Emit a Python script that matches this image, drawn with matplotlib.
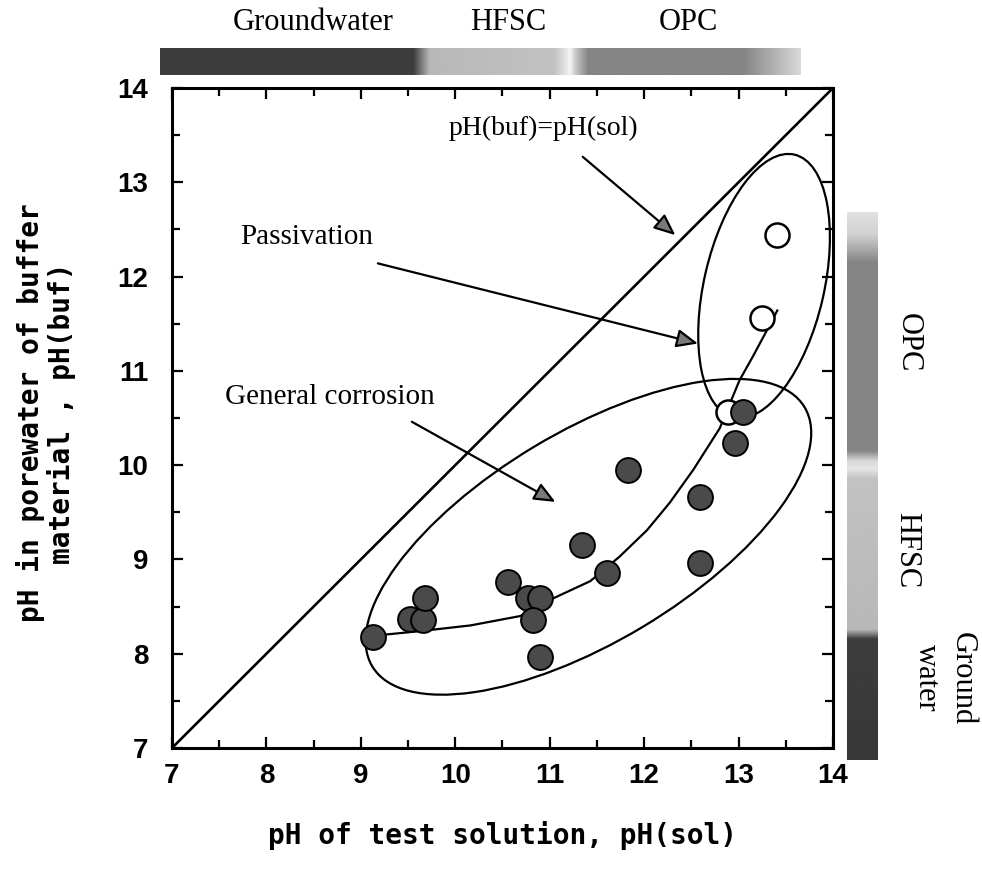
import numpy as np
import matplotlib
matplotlib.use('Agg')
import matplotlib.pyplot as plt
from matplotlib.patches import Ellipse
from matplotlib.ticker import MultipleLocator

# filled circles (general corrosion)
gen_sol = [9.13, 9.52, 9.66, 9.68, 10.56, 10.77, 10.90, 10.82, 10.90,
           11.34, 11.61, 11.83, 12.59, 12.59, 12.96, 13.05]
gen_buf = [8.18, 8.37, 8.36, 8.59, 8.76, 8.59, 8.59, 8.36, 7.97,
           9.15, 8.86, 9.95, 9.66, 8.96, 10.24, 10.56]

# open circles (passivation)
pas_sol = [13.41, 13.25, 12.89]
pas_buf = [12.44, 11.56, 10.56]

# hand drawn trend curve
trend_sol = [9.13, 9.63, 10.16, 10.69, 11.00, 11.43, 11.74, 12.03, 12.27,
             12.52, 12.80, 13.01, 13.15, 13.30, 13.41]
trend_buf = [8.19, 8.24, 8.30, 8.40, 8.57, 8.77, 9.03, 9.31, 9.60,
             9.95, 10.39, 10.90, 11.15, 11.43, 11.64]

# region ellipses: centre x, centre y, width, height, angle
gen_region = (11.41, 9.24, 5.34, 2.23, 31)
pas_region = (13.27, 11.90, 2.86, 1.27, 77)

# shaded reference bars (pH position, grey level)
top_bar_ph = [6.87, 9.55, 9.72, 11.05, 11.17, 11.21, 11.26, 11.40, 13.05, 13.65]
top_bar_grey = [0.24, 0.24, 0.72, 0.76, 0.90, 0.96, 0.80, 0.52, 0.52, 0.85]
right_bar_ph = [6.87, 8.15, 8.25, 9.85, 9.96, 10.04, 10.15, 12.15, 12.45, 12.68]
right_bar_grey = [0.22, 0.24, 0.72, 0.76, 0.90, 0.85, 0.52, 0.52, 0.82, 0.88]

SERIF = 'Liberation Serif'
SANS = 'Liberation Sans'
MONO = 'DejaVu Sans Mono'

fig = plt.figure(figsize=(9.82, 8.69), dpi=100)
ax = fig.add_axes([172 / 982, 1 - 748 / 869, 661 / 982, 660 / 869])

ax.plot([7, 14], [7, 14], color='black', lw=1.9, zorder=2)
ax.plot(trend_sol, trend_buf, color='black', lw=1.6, zorder=2)

for cx, cy, w, h, ang in (gen_region, pas_region):
    ax.add_patch(Ellipse((cx, cy), w, h, angle=ang, fill=False,
                         ec='black', lw=1.6, zorder=2))

ax.scatter(pas_sol, pas_buf, s=300, facecolor='white', edgecolor='black',
           linewidth=1.8, zorder=3)
ax.scatter(gen_sol, gen_buf, s=320, facecolor='#4a4a4a', edgecolor='black',
           linewidth=1.4, zorder=4)

arrow_kw = dict(arrowstyle='-|>,head_length=0.65,head_width=0.28',
                mutation_scale=20, lw=1.6, ec='black', fc='#7a7a7a',
                shrinkA=0, shrinkB=0)
ax.text(10.93, 13.57, 'pH(buf)=pH(sol)', fontsize=20, family=SERIF,
        ha='center', va='center')
ax.annotate('', xy=(12.33, 12.44), xytext=(11.35, 13.27), arrowprops=arrow_kw)
ax.text(8.43, 12.42, 'Passivation', fontsize=21, family=SERIF,
        ha='center', va='center')
ax.annotate('', xy=(12.57, 11.29), xytext=(9.18, 12.14), arrowprops=arrow_kw)
ax.text(8.67, 10.72, 'General corrosion', fontsize=21, family=SERIF,
        ha='center', va='center')
ax.annotate('', xy=(11.06, 9.61), xytext=(9.54, 10.46), arrowprops=arrow_kw)

ax.set_xlim(7, 14)
ax.set_ylim(7, 14)
ax.xaxis.set_major_locator(MultipleLocator(1))
ax.yaxis.set_major_locator(MultipleLocator(1))
ax.xaxis.set_minor_locator(MultipleLocator(0.5))
ax.yaxis.set_minor_locator(MultipleLocator(0.5))
ax.tick_params(which='both', direction='in', top=True, right=True, width=1.6)
ax.tick_params(which='major', length=8)
ax.tick_params(which='minor', length=6)
ax.tick_params(axis='x', pad=11)
ax.tick_params(axis='y', pad=17)
for lab in ax.get_xticklabels() + ax.get_yticklabels():
    lab.set_family(SANS)
    lab.set_fontsize(20)
    lab.set_weight('bold')
for sp in ax.spines.values():
    sp.set_linewidth(2.2)

# top bar (horizontal, pH of solution)
xs = np.linspace(top_bar_ph[0], top_bar_ph[-1], 500)
top_ax = ax.inset_axes([top_bar_ph[0], 14.14, top_bar_ph[-1] - top_bar_ph[0], 0.28],
                       transform=ax.transData)
top_ax.imshow(np.interp(xs, top_bar_ph, top_bar_grey)[np.newaxis, :],
              aspect='auto', cmap='gray', vmin=0, vmax=1,
              interpolation='bilinear')
top_ax.set_axis_off()
for name, xpos in [('Groundwater', 8.49), ('HFSC', 10.56), ('OPC', 12.47)]:
    ax.text(xpos, 14.70, name, fontsize=22, family=SERIF,
            ha='center', va='center')

# right bar (vertical, pH of buffer)
ys = np.linspace(right_bar_ph[-1], right_bar_ph[0], 500)
right_ax = ax.inset_axes([14.15, right_bar_ph[0], 0.32, right_bar_ph[-1] - right_bar_ph[0]],
                         transform=ax.transData)
right_ax.imshow(np.interp(ys, right_bar_ph, right_bar_grey)[:, np.newaxis],
                aspect='auto', cmap='gray', vmin=0, vmax=1,
                interpolation='bilinear')
right_ax.set_axis_off()
ax.text(14.80, 11.3, 'OPC', fontsize=22, family=SERIF, rotation=270,
        ha='center', va='center')
ax.text(14.78, 9.1, 'HFSC', fontsize=22, family=SERIF, rotation=270,
        ha='center', va='center')
ax.text(15.18, 7.74, 'Ground\nwater', fontsize=22, family=SERIF, rotation=270,
        ha='center', va='center', multialignment='center', linespacing=1.3)

fig.text(502 / 982, 1 - 836 / 869, 'pH of test solution, pH(sol)',
         fontsize=20, family=MONO, weight='bold', ha='center', va='center')
fig.text(46 / 982, 1 - 413 / 869, 'pH in porewater of buffer\nmaterial , pH(buf)',
         fontsize=20, family=MONO, weight='bold', rotation=90,
         ha='center', va='center', multialignment='center', linespacing=1.1)

fig.savefig('out.png', dpi=100)
